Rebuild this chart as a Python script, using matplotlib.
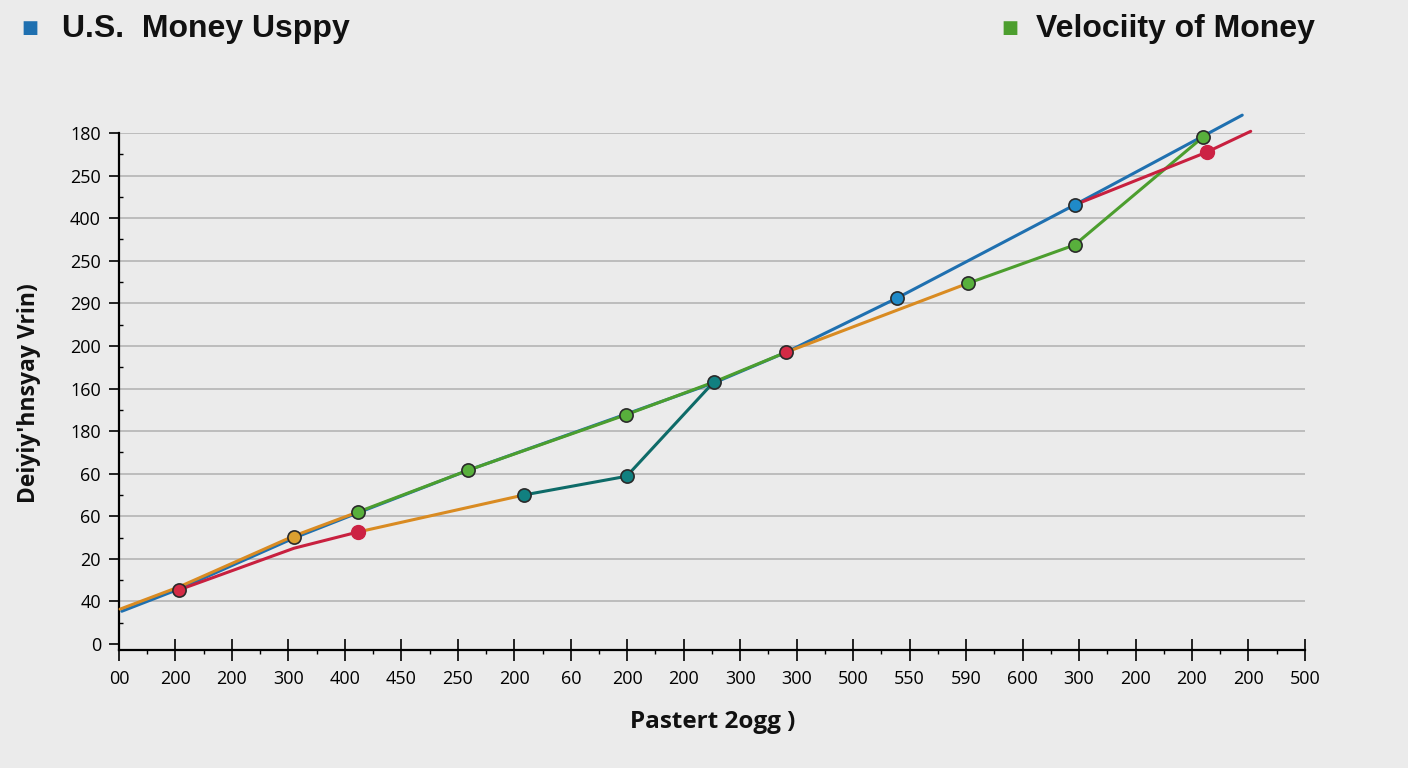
import numpy as np
import matplotlib.pyplot as plt
from matplotlib.ticker import MultipleLocator

# tick labels as printed on the chart
x_labels = ['00', '200', '200', '300', '400', '450', '250', '200', '60', '200', '200',
            '300', '300', '500', '550', '590', '600', '300', '200', '200', '200', '500']
y_labels = ['0', '40', '20', '60', '60', '180', '160', '200', '290', '250', '400', '250', '180']

# line pieces (x in tick slots, y in gridline slots)
blue_x = [0.05, 1.06, 3.10, 4.23, 6.18, 10.57, 11.81, 13.77, 16.92, 19.89]
blue_y = [0.77, 1.29, 2.49, 3.08, 4.08, 6.15, 6.85, 8.12, 10.31, 12.42]
orange1_x = [0.02, 1.06, 3.10, 4.23]
orange1_y = [0.82, 1.34, 2.54, 3.10]
orange2_x = [4.23, 7.17]
orange2_y = [2.63, 3.50]
orange3_x = [11.81, 15.03]
orange3_y = [6.85, 8.47]
green1_x = [4.23, 6.18, 8.97, 10.53, 11.81]
green1_y = [3.10, 4.08, 5.38, 6.15, 6.85]
green2_x = [15.03, 16.92, 19.19]
green2_y = [8.47, 9.37, 11.90]
red1_x = [1.06, 3.10, 4.23]
red1_y = [1.27, 2.25, 2.63]
red2_x = [16.92, 19.26, 20.04]
red2_y = [10.31, 11.55, 12.04]
teal_x = [7.17, 8.99, 10.53]
teal_y = [3.50, 3.94, 6.15]

# marker points
mk_red_x = [1.06, 11.81]
mk_red_y = [1.27, 6.85]
mk_red2_x = [4.23, 19.26]
mk_red2_y = [2.63, 11.55]
mk_orange_x = [3.10]
mk_orange_y = [2.51]
mk_green_x = [4.23, 6.18, 8.97, 15.03, 16.92, 19.19]
mk_green_y = [3.10, 4.08, 5.38, 8.47, 9.37, 11.90]
mk_teal_x = [7.17, 8.99, 10.53]
mk_teal_y = [3.50, 3.94, 6.15]
mk_blue_x = [13.77, 16.92]
mk_blue_y = [8.12, 10.31]

BLUE = '#1f70b0'
GREEN = '#4c9e2e'
ORANGE = '#d98b22'
RED = '#c8203f'
TEAL = '#0e6b68'
BG = '#ebebeb'

plt.rcParams['font.family'] = ['Open Sans', 'DejaVu Sans']

fig = plt.figure(figsize=(14.08, 7.68), dpi=100, facecolor=BG)
ax = fig.add_axes([0.0845, 0.1531, 0.8423, 0.6737], facecolor=BG)

lw = 2.2
kw = dict(lw=lw, clip_on=False, solid_capstyle='round', zorder=3)
ax.plot(blue_x, blue_y, color=BLUE, **kw)
ax.plot(orange1_x, orange1_y, color=ORANGE, **kw)
ax.plot(green1_x, green1_y, color=GREEN, **kw)
ax.plot(orange2_x, orange2_y, color=ORANGE, **kw)
ax.plot(orange3_x, orange3_y, color=ORANGE, **kw)
ax.plot(green2_x, green2_y, color=GREEN, **kw)
ax.plot(red1_x, red1_y, color=RED, **kw)
ax.plot(red2_x, red2_y, color=RED, **kw)
ax.plot(teal_x, teal_y, color=TEAL, **kw)

mkw = dict(ls='none', marker='o', ms=9.5, mec='#2a2a2a', mew=1.2, clip_on=False, zorder=5)
ax.plot(mk_red_x, mk_red_y, mfc='#d42a45', **mkw)
ax.plot(mk_orange_x, mk_orange_y, mfc='#dba030', **mkw)
ax.plot(mk_green_x, mk_green_y, mfc='#58b03c', **mkw)
ax.plot(mk_teal_x, mk_teal_y, mfc='#118080', **mkw)
ax.plot(mk_blue_x, mk_blue_y, mfc='#1f8ac8', **mkw)
ax.plot(mk_red2_x, mk_red2_y, ls='none', marker='o', ms=10, mfc='#cc2244', mec='#cc2244',
        clip_on=False, zorder=5)

ax.set_xlim(0, 21)
ax.set_ylim(-0.15, 12)
ax.set_xticks(range(len(x_labels)))
ax.set_xticklabels(x_labels, fontsize=13)
ax.set_yticks(range(len(y_labels)))
ax.set_yticklabels(y_labels, fontsize=13)
ax.xaxis.set_minor_locator(MultipleLocator(0.5))
ax.yaxis.set_minor_locator(MultipleLocator(0.5))
ax.tick_params(axis='x', which='major', direction='inout', length=16, width=1.2, pad=6)
ax.tick_params(axis='x', which='minor', direction='out', length=3, width=1)
ax.tick_params(axis='y', which='major', direction='out', length=7, width=1.2, pad=6)
ax.tick_params(axis='y', which='minor', direction='in', length=3, width=1)

for y in range(1, len(y_labels)):
    ax.axhline(y, color='#bcbcbc', lw=1.4, zorder=1)

for s in ['top', 'right']:
    ax.spines[s].set_visible(False)
ax.spines['left'].set_linewidth(1.6)
ax.spines['bottom'].set_linewidth(1.6)
ax.spines['left'].set_bounds(-0.15, 12)

fig.text(0.0205, 0.488, "Deiyiy'hnsyay Vrin)", rotation=90, ha='center', va='center',
         fontsize=16.5, fontweight='bold', color='#111111')
fig.text(0.506, 0.06, "Pastert 2ogg )", ha='center', va='center',
         fontsize=17.5, fontweight='bold', color='#111111')

# legend at top
fig.text(0.0215, 0.963, '■', color=BLUE, fontsize=13, ha='center', va='center',
         family='DejaVu Sans')
fig.text(0.044, 0.962, 'U.S.  Money Usppy', fontsize=23, fontweight='bold',
         ha='left', va='center', family='Liberation Sans', color='#111111')
fig.text(0.717, 0.963, '■', color=GREEN, fontsize=13, ha='center', va='center',
         family='DejaVu Sans')
fig.text(0.7355, 0.962, 'Velociity of Money', fontsize=23, fontweight='bold',
         ha='left', va='center', family='Liberation Sans', color='#111111')

fig.savefig('out.png', dpi=100, facecolor=BG)
